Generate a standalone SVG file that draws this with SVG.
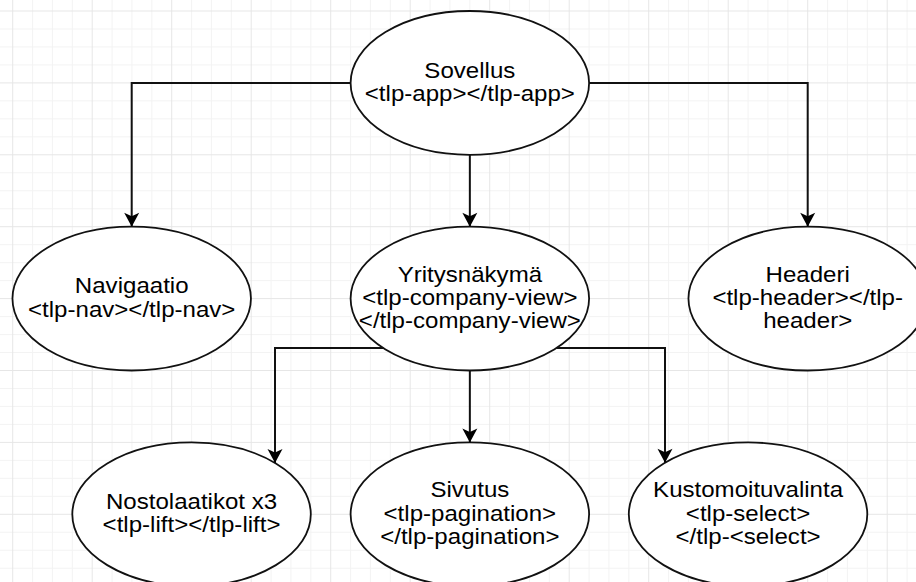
<svg xmlns="http://www.w3.org/2000/svg" width="916" height="582" viewBox="0 0 916 582">
<defs>
<pattern id="grid" patternUnits="userSpaceOnUse" x="12.2" y="10.5" width="79.5" height="71.9">
<rect x="19.875" y="0" width="1" height="71.9" fill="#f3f3f3"/>
<rect x="39.75" y="0" width="1" height="71.9" fill="#f3f3f3"/>
<rect x="59.625" y="0" width="1" height="71.9" fill="#f3f3f3"/>
<rect x="0" y="17.975" width="79.5" height="1" fill="#f3f3f3"/>
<rect x="0" y="35.95" width="79.5" height="1" fill="#f3f3f3"/>
<rect x="0" y="53.925" width="79.5" height="1" fill="#f3f3f3"/>
<rect x="0" y="0" width="1" height="71.9" fill="#e6e6e6"/>
<rect x="0" y="0" width="79.5" height="1" fill="#e6e6e6"/>
</pattern>
<marker id="arrow" markerUnits="userSpaceOnUse" viewBox="-15 -8 16 16" refX="0" refY="0" markerWidth="16" markerHeight="16" orient="auto">
<path d="M0,0 L-14,-7.5 L-10.5,0 L-14,7.5 Z" fill="#000"/>
</marker>
</defs>
<style>
.node ellipse { fill: #ffffff; stroke: #111; stroke-width: 1.8; }
.node text { font-family: "Liberation Sans", Arial, sans-serif; font-size: 21.5px; fill: #000; text-anchor: middle; }
.edge { fill: none; stroke: #111; stroke-width: 2; marker-end: url(#arrow); }
</style>
<rect x="0" y="0" width="916" height="582" fill="#ffffff"/>
<rect x="0" y="0" width="916" height="582" fill="url(#grid)"/>

<g id="sovellus" class="node">
<ellipse cx="469.85" cy="82.9" rx="119.25" ry="71.9"/>
<text transform="translate(469.85,77.65) scale(1.12,1)"><tspan x="0" y="0">Sovellus</tspan><tspan x="0" y="23.3">&lt;tlp-app&gt;&lt;/tlp-app&gt;</tspan></text>
</g>
<g id="navigaatio" class="node">
<ellipse cx="131.7" cy="298.6" rx="119.25" ry="71.9"/>
<text transform="translate(131.7,293.35) scale(1.12,1)"><tspan x="0" y="0">Navigaatio</tspan><tspan x="0" y="23.3">&lt;tlp-nav&gt;&lt;/tlp-nav&gt;</tspan></text>
</g>
<g id="yritysnakyma" class="node">
<ellipse cx="469.85" cy="298.6" rx="119.25" ry="71.9"/>
<text transform="translate(469.85,281.7) scale(1.12,1)"><tspan x="0" y="0">Yritysnäkymä</tspan><tspan x="0" y="23.3">&lt;tlp-company-view&gt;</tspan><tspan x="0" y="46.6">&lt;/tlp-company-view&gt;</tspan></text>
</g>
<g id="headeri" class="node">
<ellipse cx="807.7" cy="298.6" rx="119.25" ry="71.9"/>
<text transform="translate(807.7,281.7) scale(1.12,1)"><tspan x="0" y="0">Headeri</tspan><tspan x="0" y="23.3">&lt;tlp-header&gt;&lt;/tlp-</tspan><tspan x="0" y="46.6">header&gt;</tspan></text>
</g>
<g id="nostolaatikot" class="node">
<ellipse cx="191.55" cy="514.3" rx="119.25" ry="71.9"/>
<text transform="translate(191.55,509.05) scale(1.12,1)"><tspan x="0" y="0">Nostolaatikot x3</tspan><tspan x="0" y="23.3">&lt;tlp-lift&gt;&lt;/tlp-lift&gt;</tspan></text>
</g>
<g id="sivutus" class="node">
<ellipse cx="469.85" cy="514.3" rx="119.25" ry="71.9"/>
<text transform="translate(469.85,497.4) scale(1.12,1)"><tspan x="0" y="0">Sivutus</tspan><tspan x="0" y="23.3">&lt;tlp-pagination&gt;</tspan><tspan x="0" y="46.6">&lt;/tlp-pagination&gt;</tspan></text>
</g>
<g id="kustomoituvalinta" class="node">
<ellipse cx="748.05" cy="514.3" rx="119.25" ry="71.9"/>
<text transform="translate(748.05,497.4) scale(1.12,1)"><tspan x="0" y="0">Kustomoituvalinta</tspan><tspan x="0" y="23.3">&lt;tlp-select&gt;</tspan><tspan x="0" y="46.6">&lt;/tlp-&lt;select&gt;</tspan></text>
</g>

<g id="connectors">
<path class="edge" d="M350.6,82.9 H131.7 V226.7"/>
<path class="edge" d="M469.85,154.8 V226.7"/>
<path class="edge" d="M589.1,82.9 H807.7 V226.7"/>
<path class="edge" d="M383.2,348 H275 V462.9"/>
<path class="edge" d="M469.85,370.5 V442.4"/>
<path class="edge" d="M556.5,348 H665 V462.7"/>
</g>
</svg>
